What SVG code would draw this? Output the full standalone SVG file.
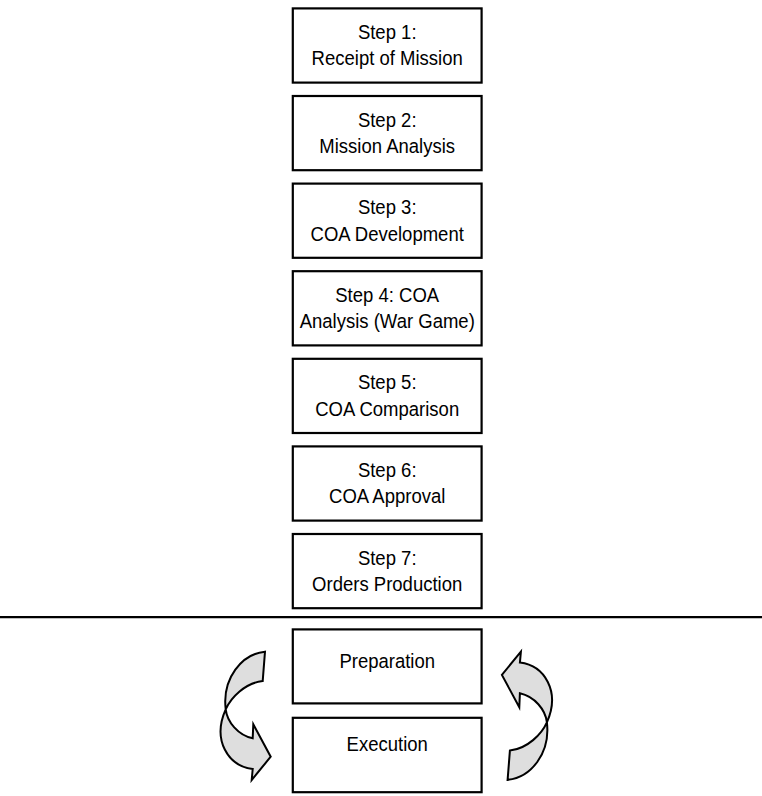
<svg xmlns="http://www.w3.org/2000/svg" xmlns:xlink="http://www.w3.org/1999/xlink" width="762" height="796" viewBox="0 0 762 796">
<style>
.box{fill:#ffffff;stroke:#000000;stroke-width:2.2}
.lbl{font-family:"Liberation Sans",Arial,sans-serif;font-size:19.5px;fill:#000000;text-anchor:middle}
.cyc{fill:#dedede;stroke:#000000;stroke-width:2;stroke-linejoin:miter}
.sep{stroke:#000000;stroke-width:2.2}
</style>
<defs>
<path id="curvedArrow" class="cyc" d="M265,651.7 C242,654 222,678 225.7,709.3 C227.2,722 238,735 252.7,738.3 L253.3,724.3 L270.7,756.7 L251.7,780 L252.7,769 C228,766 212,740 225.7,709.3 C231,697.5 245,683 262.7,681 Z"/>
</defs>
<rect width="762" height="796" fill="#ffffff"/>
<g id="step1">
<rect class="box" x="292.8" y="8.4" width="188.8" height="74.2"/>
<text class="lbl" transform="scale(0.95 1)"><tspan x="407.6" y="39">Step 1:</tspan><tspan x="407.6" y="65.4">Receipt of Mission</tspan></text>
</g>
<g id="step2">
<rect class="box" x="292.8" y="96" width="188.8" height="74.2"/>
<text class="lbl" transform="scale(0.95 1)"><tspan x="407.6" y="126.6">Step 2:</tspan><tspan x="407.6" y="153">Mission Analysis</tspan></text>
</g>
<g id="step3">
<rect class="box" x="292.8" y="183.6" width="188.8" height="74.2"/>
<text class="lbl" transform="scale(0.95 1)"><tspan x="407.6" y="214.2">Step 3:</tspan><tspan x="407.6" y="240.6">COA Development</tspan></text>
</g>
<g id="step4">
<rect class="box" x="292.8" y="271.2" width="188.8" height="74.2"/>
<text class="lbl" transform="scale(0.95 1)"><tspan x="407.6" y="301.8">Step 4: COA</tspan><tspan x="407.6" y="328.2">Analysis (War Game)</tspan></text>
</g>
<g id="step5">
<rect class="box" x="292.8" y="358.8" width="188.8" height="74.2"/>
<text class="lbl" transform="scale(0.95 1)"><tspan x="407.6" y="389.4">Step 5:</tspan><tspan x="407.6" y="415.8">COA Comparison</tspan></text>
</g>
<g id="step6">
<rect class="box" x="292.8" y="446.4" width="188.8" height="74.2"/>
<text class="lbl" transform="scale(0.95 1)"><tspan x="407.6" y="477">Step 6:</tspan><tspan x="407.6" y="503.4">COA Approval</tspan></text>
</g>
<g id="step7">
<rect class="box" x="292.8" y="534" width="188.8" height="74.2"/>
<text class="lbl" transform="scale(0.95 1)"><tspan x="407.6" y="564.6">Step 7:</tspan><tspan x="407.6" y="591">Orders Production</tspan></text>
</g>
<g id="separator">
<line class="sep" x1="0" y1="617.2" x2="762" y2="617.2"/>
</g>
<g id="preparation">
<rect class="box" x="292.8" y="629.4" width="188.8" height="74"/>
<text class="lbl" transform="scale(0.95 1)" x="407.6" y="668.5">Preparation</text>
</g>
<g id="execution">
<rect class="box" x="292.8" y="717.8" width="188.8" height="74.4"/>
<text class="lbl" transform="scale(0.95 1)" x="407.6" y="751.5">Execution</text>
</g>
<g id="connectors">
<use xlink:href="#curvedArrow"/>
<use xlink:href="#curvedArrow" transform="rotate(180 386.3 715.8)"/>
</g>
</svg>
